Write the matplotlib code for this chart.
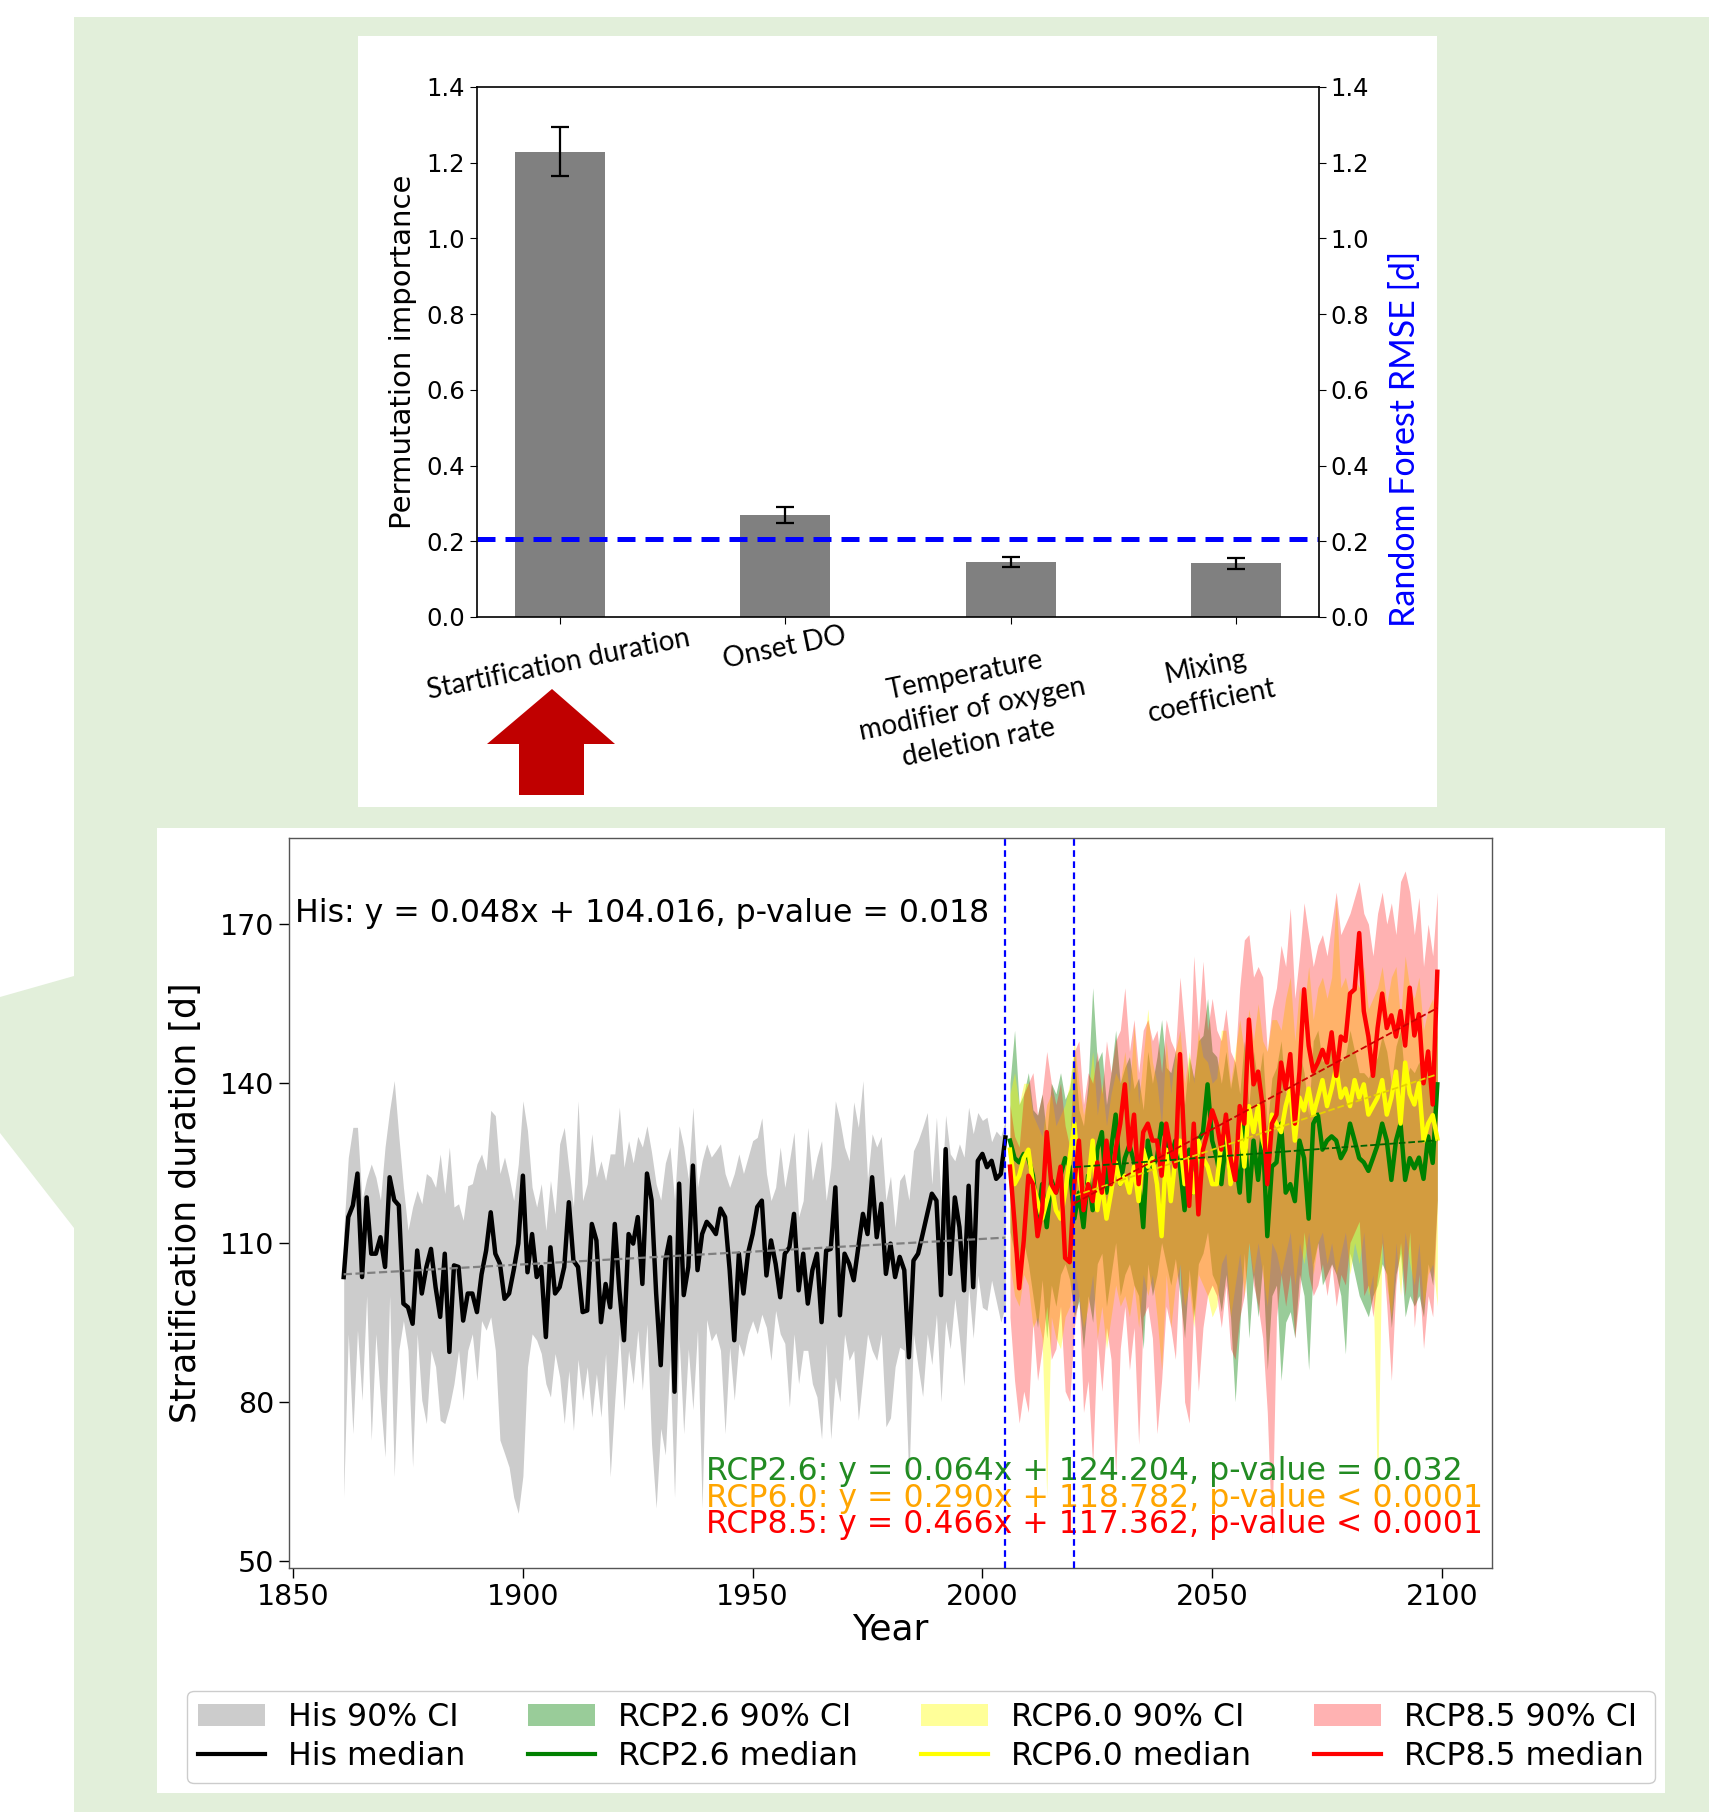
import numpy as np
import matplotlib
matplotlib.use("Agg")
import matplotlib.pyplot as plt
from matplotlib.patches import Polygon, Patch
from matplotlib.lines import Line2D

# ------------------------------------------------------------------ data
# top panel: permutation importance
features = ["Startification duration", "Onset DO",
            "Temperature\nmodifier of oxygen\ndeletion rate",
            "Mixing\ncoefficient"]
importance = [1.229, 0.270, 0.145, 0.142]
importance_err = [0.065, 0.021, 0.013, 0.014]
rf_rmse = 0.207
imp_ticks = [0.0, 0.2, 0.4, 0.6, 0.8, 1.0, 1.2, 1.4]

# bottom panel: stratification duration
his_start = 1861
his_median = [
    103.5, 114.8, 117.0, 123.0, 103.5, 118.5, 107.9, 107.9, 111.0, 105.4,
    122.3, 118.0, 117.0, 98.5, 97.8, 94.7, 108.5, 100.4, 105.4, 108.8,
    101.6, 96.0, 107.9, 89.4, 105.7, 105.4, 95.3, 100.4, 100.4, 96.9,
    104.0, 108.5, 115.7, 107.9, 106.0, 99.4, 100.4, 104.8, 109.8, 122.6,
    104.4, 111.6, 103.5, 105.4, 92.2, 109.1, 100.4, 101.6, 105.4, 117.6,
    106.6, 105.4, 96.9, 97.2, 113.5, 110.4, 95.0, 102.2, 97.8, 113.5,
    101.0, 91.6, 111.6, 109.8, 114.8, 102.2, 123.0, 118.0, 100.4, 86.9,
    106.6, 111.0,
    81.9, 121.1, 100.1, 105.4, 124.5, 104.8, 111.6, 113.9, 112.9, 111.6,
    116.4, 114.8, 104.8, 91.6, 107.9, 100.4, 108.0, 111.6, 116.7, 117.9,
    103.8, 110.4, 106.0, 99.7, 107.9, 109.1, 115.4, 101.0, 107.9, 98.5,
    104.8, 107.9, 95.0, 108.5, 108.8, 120.4, 96.3, 107.9, 106.0, 102.9,
    109.1, 115.4, 111.6, 122.3, 111.0, 117.3, 104.1, 109.8, 103.5, 107.3,
    104.8, 88.4, 106.6, 107.9, 111.6, 115.4, 119.2, 117.9, 100.1, 127.6,
    104.1, 118.5, 112.9, 101.0, 120.7, 101.6, 125.4, 126.7, 124.2, 125.4,
    122.0, 122.9, 129.8]
his_upper = [
    112, 126, 131.7, 131.7, 118, 122, 124.8, 122.3, 118, 128,
    134.9, 140.5, 130, 120.4, 112.3, 116.7, 119.8, 117.3, 123, 122.3,
    120.4, 126.7, 119.2, 128, 116.7, 117.3, 114.2, 120.7, 121.1, 124.8,
    126.7, 123.6, 134.9, 133.9, 123, 126.1, 122.3, 117.9, 124.8, 136.7,
    131.1, 120.4, 116.7, 121.1, 112.3, 121.7, 115.4, 128.6, 131.7, 124,
    116.7, 136.7, 117.9, 121.1, 130.5, 122.3, 125.4, 121.7, 126.7, 126.7,
    135.5, 124.2, 129.2, 125, 130, 128, 132, 127, 121, 118,
    125, 128,
    118, 132, 128, 122, 135.5, 120.4, 125.4, 128.6, 126.1, 127.3,
    128.6, 123, 120.4, 123, 126.7, 123, 126.1, 129.2, 129.8, 133.5,
    123, 117.9, 120.4, 128, 120.4, 125.4, 130.8, 114.8, 117.9, 131.7,
    121.7, 126.1, 129.2, 117.9, 124.2, 136.7, 133, 128, 125.4, 136.5,
    131.7, 140.5, 121.7, 130.5, 128, 130, 117.9, 122.5, 112.9, 121.7,
    123, 118, 127.3, 129.2, 131.7, 134.5, 121, 133.6, 117.9, 134,
    126.7, 125.4, 128.6, 126.1, 135.5, 130.5, 134.5, 133, 133.6, 129,
    131, 130, 133]
his_lower = [
    62, 92.8, 74, 93.5, 80.3, 100, 72.8, 92.8, 80.3, 69.6,
    100, 65.9, 89.7, 95.3, 89.7, 67.7, 92.8, 80.3, 75.9, 89.7,
    86.6, 76.5, 75.9, 79, 83.4, 89.7, 80.3, 89.7, 92.8, 84,
    95.3, 93.5, 96, 89.7, 72.8, 70.3, 67.7, 62, 59, 66,
    86.6, 92.8, 91.6, 89.1, 83.4, 80.9, 89.1, 84.7, 75.9, 85.9,
    74.6, 88, 80.3, 86.6, 77.1, 85.3, 77.1, 89.1, 65.9, 80.3,
    92.8, 78.4, 89.7, 83.4, 93.5, 82.2, 94.7, 72, 60, 75,
    70, 88,
    62, 92, 74, 90, 78.5, 93.5, 60, 95.5, 91.5, 93,
    89.7, 74, 90.3, 80.3, 91, 88.5, 92.8, 95.3, 92.8, 96.5,
    94, 87.8, 97.2, 92.8, 91, 79, 92.8, 83.4, 89.7, 89.7,
    83.4, 80.9, 73, 91, 73, 84.7, 80, 92.8, 87.8, 89.7,
    76.5, 84.7, 92.8, 89.7, 87.8, 92.8, 75.3, 77, 86.6, 90.3,
    89.7, 65, 92.8, 86.6, 81, 92.8, 87, 96.5, 80, 95.3,
    90, 99.4, 92, 83, 101.6, 92, 103.9, 97.8, 97.2, 102.9,
    99, 95, 98]

rcp_start = 2006
rcp26_median = [
    129.2, 125.9, 125.1, 126.7, 125.9, 122.6, 114.5, 121.0, 112.9, 121.8,
    119.4, 122.6, 125.9, 124.3, 114.5, 119.4, 112.9, 122.6, 116.1, 127.5,
    130.8, 119.4, 127.5, 134.1, 121.0, 125.9, 128.4, 125.1, 122.6, 112.9,
    129.2, 124.3, 125.9, 132.4, 129.2, 125.9, 129.2, 124.3, 116.1, 127.5,
    119.4, 129.2, 130.8, 139.8, 129.2, 125.9, 121.0, 129.2, 122.6, 125.9,
    119.4, 132.4, 117.8, 129.2, 121.8, 130.8, 111.2, 124.3, 125.1, 132.4,
    119.4, 121.0, 117.8, 129.2, 125.9, 114.5, 132.4, 134.1, 127.5, 129.2,
    130.0, 129.2, 125.9, 127.5, 132.4, 129.2, 125.9, 125.1, 123.5, 125.9,
    128.4, 132.4, 129.2, 121.8, 129.2, 132.4, 121.8, 125.9, 124.0, 126.0,
    122.0, 130.0, 125.0, 139.8]
rcp26_upper = [
    140, 150, 136, 138, 142, 135, 134, 138, 130, 140,
    138, 142, 137, 139, 146, 135, 132, 140, 158, 144,
    146, 136, 142, 150, 140, 143, 145, 139, 141, 135,
    146, 140, 145, 152, 143, 142, 146, 140, 136, 145,
    141, 148, 149, 156, 146, 145, 140, 146, 139, 144,
    138, 148, 136, 146, 140, 146, 132, 141, 143, 148,
    138, 140, 135, 146, 142, 134, 148, 150, 144, 146,
    147, 146, 144, 145, 150, 146, 142, 142, 141, 143,
    145, 149, 146, 140, 147, 150, 140, 143, 142, 144,
    140, 146, 143, 150]
rcp26_lower = [
    112, 108, 104, 110, 106, 100, 94, 103, 92, 102,
    98, 104, 106, 103, 96, 99, 90, 100, 95, 106,
    108, 98, 104, 110, 100, 104, 106, 102, 100, 90,
    106, 100, 104, 110, 106, 102, 107, 100, 92, 105,
    96, 106, 108, 112, 104, 102, 97, 104, 96, 80,
    94, 108, 92, 104, 96, 106, 86, 100, 102, 84,
    95, 97, 92, 104, 100, 86, 106, 110, 102, 104,
    106, 104, 100, 89, 108, 104, 100, 98, 96, 100,
    102, 106, 104, 94, 104, 108, 96, 100, 98, 100,
    96, 106, 102, 118]

rcp60_median = [
    127.5, 121.0, 122.6, 125.9, 127.5, 121.0, 117.8, 114.5, 117.8, 121.0,
    116.1, 114.5, 119.4, 125.9, 132.4, 122.6, 117.8, 121.0, 129.2, 116.1,
    121.0, 114.5, 119.4, 125.1, 121.0, 122.6, 119.4, 124.3, 117.8, 127.5,
    124.3, 125.9, 121.0, 111.2, 127.5, 117.8, 125.9, 129.2, 121.0, 125.9,
    119.4, 129.2, 125.9, 124.3, 121.0, 121.0, 129.2, 132.4, 121.0, 125.9,
    132.4, 124.3, 135.7, 130.8, 135.7, 129.2, 125.9, 134.1, 132.4, 130.8,
    135.7, 139.0, 129.2, 137.3, 134.9, 139.0, 134.1, 137.3, 140.6, 135.7,
    139.0, 143.0, 137.3, 139.0, 135.7, 140.6, 137.3, 139.8, 134.1, 135.7,
    137.3, 140.6, 134.1, 137.3, 142.2, 132.4, 143.9, 138.0, 136.0, 140.0,
    129.2, 132.4, 134.0, 129.6]
rcp60_upper = [
    138, 142, 136, 140, 140, 134, 132, 130, 136, 138,
    132, 134, 136, 140, 148, 140, 134, 138, 146, 134,
    140, 132, 138, 142, 140, 146, 138, 151, 136, 145,
    154, 144, 140, 132, 148, 138, 146, 150, 140, 146,
    140, 150, 145, 144, 140, 141, 150, 150, 140, 146,
    152, 146, 154, 148, 155, 148, 146, 152, 152, 150,
    156, 160, 148, 158, 154, 162, 152, 158, 160, 156,
    160, 175, 158, 160, 156, 160, 158, 162, 154, 156,
    158, 162, 155, 160, 162, 152, 164, 158, 156, 160,
    150, 154, 156, 150]
rcp60_lower = [
    106, 100, 98, 104, 102, 94, 96, 92, 62, 96,
    92, 90, 96, 98, 106, 100, 94, 98, 104, 92,
    98, 90, 96, 102, 98, 100, 96, 102, 94, 104,
    100, 104, 96, 86, 104, 94, 102, 106, 98, 102,
    94, 104, 102, 100, 96, 98, 106, 108, 96, 102,
    108, 100, 110, 104, 110, 104, 98, 110, 108, 104,
    108, 112, 102, 110, 106, 112, 104, 110, 112, 106,
    110, 104, 108, 112, 104, 110, 106, 112, 100, 104,
    62, 112, 102, 96, 110, 100, 112, 106, 102, 110,
    98, 104, 106, 98]

rcp85_median = [
    124.3, 113.7, 101.4, 110.4, 122.6, 121.0, 111.2, 116.1, 130.8, 121.0,
    119.4, 124.3, 107.1, 106.3, 121.0, 129.2, 116.1, 121.0, 117.8, 125.1,
    119.4, 129.2, 121.0, 127.5, 132.4, 139.8, 127.5, 134.1, 121.0, 130.8,
    132.4, 129.2, 129.2, 122.6, 132.4, 127.5, 124.3, 145.5, 127.5, 116.9,
    132.4, 115.3, 127.5, 130.8, 134.9, 132.4, 127.5, 134.1, 125.9, 121.8,
    135.7, 132.4, 152.0, 139.8, 142.2, 135.7, 121.0, 132.4, 134.1, 143.9,
    139.0, 145.5, 132.4, 142.2, 157.7, 147.1, 142.2, 143.9, 146.3, 143.9,
    149.6, 141.4, 148.8, 148.0, 156.9, 157.7, 168.3, 153.6, 148.8, 141.4,
    150.4, 156.9, 150.4, 152.8, 148.8, 153.6, 147.1, 158.0, 149.0, 153.0,
    140.0, 146.0, 136.0, 161.0]
rcp85_upper = [
    136, 130, 128, 138, 140, 142, 134, 138, 146, 140,
    136, 140, 132, 128, 146, 148, 136, 142, 140, 146,
    138, 148, 142, 148, 150, 158, 146, 152, 142, 150,
    152, 148, 150, 142, 152, 148, 146, 160, 150, 140,
    164, 150, 163, 150, 156, 150, 148, 154, 146, 144,
    158, 167, 168, 160, 162, 160, 146, 154, 158, 166,
    162, 173, 156, 164, 174, 168, 162, 166, 168, 164,
    170, 176, 168, 170, 172, 175, 178, 172, 170, 164,
    172, 176, 170, 174, 168, 178, 180, 176, 168, 175,
    162, 170, 164, 176]
rcp85_lower = [
    96, 84, 76, 82, 78, 95, 84, 90, 98, 88,
    90, 98, 82, 80, 94, 100, 78, 84, 68, 92,
    82, 94, 88, 66, 90, 98, 86, 94, 72, 96,
    98, 92, 74, 84, 98, 94, 88, 106, 80, 76,
    98, 82, 94, 100, 102, 100, 94, 102, 90, 88,
    96, 100, 110, 102, 98, 92, 78, 54, 96, 104,
    98, 104, 92, 100, 112, 104, 100, 102, 106, 100,
    106, 98, 104, 102, 110, 112, 114, 100, 102, 96,
    104, 110, 98, 84, 102, 110, 100, 112, 94, 104,
    90, 100, 96, 118]

# regression coefficients printed on the chart
his_fit = (0.048, 104.016)
rcp26_fit = (0.064, 124.204)
rcp60_fit = (0.290, 118.782)
rcp85_fit = (0.466, 117.362)
rcp_fit_start = 2020
period_marks = [2005, 2020]
year_ticks = [1850, 1900, 1950, 2000, 2050, 2100]
dur_ticks = [50, 80, 110, 140, 170]

# ------------------------------------------------------------------ layout helpers
W, H = 1709, 1812
fig = plt.figure(figsize=(W / 100, H / 100), dpi=100)
fig.patch.set_facecolor("white")


def fx(x):
    return x / W


def fy(y):
    return 1 - y / H


def poly(points, **kw):
    p = Polygon([(fx(a), fy(b)) for a, b in points], closed=True,
                transform=fig.transFigure, **kw)
    fig.patches.append(p)


GREEN_BG = "#e2efda"
poly([(74, 17), (W, 17), (W, H), (74, H)], facecolor=GREEN_BG, edgecolor="none", zorder=-10)
poly([(0, 997), (74, 976), (74, 1228), (0, 1133)], facecolor=GREEN_BG, edgecolor="none", zorder=-10)
poly([(358, 36), (1437, 36), (1437, 807), (358, 807)], facecolor="white", edgecolor="none", zorder=-9)
poly([(157, 828), (1665, 828), (1665, 1793), (157, 1793)], facecolor="white", edgecolor="none", zorder=-9)
# red block arrow
poly([(552, 689), (615, 744), (584, 744), (584, 795), (519, 795), (519, 744), (487, 744)],
     facecolor="#c00000", edgecolor="none", zorder=5)

# ------------------------------------------------------------------ top panel
ax1 = fig.add_axes([fx(477), fy(617), (1319 - 477) / W, (617 - 87) / H])
xpos = np.arange(len(features))
ax1.bar(xpos, importance, width=0.4, color="gray", yerr=importance_err, capsize=6.5,
        error_kw=dict(elinewidth=1.6, capthick=1.6, ecolor="black"))
ax1.axhline(rf_rmse, color="blue", lw=3.6, ls=(0, (3.6, 2.0)))
ax1.set_ylim(0, 1.4)
ax1.set_yticks(imp_ticks)
ax1.set_yticklabels([f"{t:.1f}" for t in imp_ticks])
ax1.set_xticks(xpos)
ax1.set_xticklabels([])
ax1.tick_params(axis="y", right=True, labelright=True, labelsize=17.5, length=5)
ax1.tick_params(axis="x", length=5)
for s in ax1.spines.values():
    s.set_linewidth(1.2)
ax1.set_ylabel("Permutation importance", fontsize=21)
ax1.yaxis.set_label_coords((417 - 477) / 842, 0.5)

label_pos = [(559, 664), (785, 648), (972, 709), (1209, 684)]
for name, (px_, py_) in zip(features, label_pos):
    fig.text(fx(px_), fy(py_), name, rotation=11.5, rotation_mode="anchor",
             ha="center", va="center", multialignment="center",
             fontsize=20, family=["Lato", "DejaVu Sans"], linespacing=1.4)
fig.text(fx(1405), fy(439), "Random Forest RMSE [d]", rotation=90, color="blue",
         ha="center", va="center", fontsize=24.5, family=["Lato", "DejaVu Sans"])

# ------------------------------------------------------------------ bottom panel
ax2 = fig.add_axes([fx(289), fy(1568), (1492 - 289) / W, (1568 - 838) / H])
his_years = np.arange(his_start, his_start + len(his_median))
rcp_years = np.arange(rcp_start, rcp_start + len(rcp26_median))

ax2.fill_between(his_years, his_lower, his_upper, color="gray", alpha=0.4, lw=0)
ax2.fill_between(rcp_years, rcp26_lower, rcp26_upper, color="green", alpha=0.4, lw=0)
ax2.fill_between(rcp_years, rcp60_lower, rcp60_upper, color="yellow", alpha=0.4, lw=0)
ax2.fill_between(rcp_years, rcp85_lower, rcp85_upper, color="red", alpha=0.3, lw=0)

ax2.plot(his_years, his_median, color="black", lw=3.2)
ax2.plot(rcp_years, rcp26_median, color="green", lw=3.2)
ax2.plot(rcp_years, rcp60_median, color="yellow", lw=3.2)
ax2.plot(rcp_years, rcp85_median, color="red", lw=3.2)

# trend lines from the printed regression coefficients
ax2.plot(his_years, his_fit[0] * (his_years - his_start) + his_fit[1],
         color="gray", ls="--", lw=1.6)
fit_years = np.arange(rcp_fit_start, rcp_years[-1] + 1)
for fit, col in [(rcp26_fit, "darkgreen"), (rcp60_fit, "#e6d200"), (rcp85_fit, "#cc0000")]:
    ax2.plot(fit_years, fit[0] * (fit_years - rcp_fit_start) + fit[1],
             color=col, ls="--", lw=1.3)

for yr in period_marks:
    ax2.axvline(yr, color="blue", ls=(0, (3, 2)), lw=1.6, zorder=4)

ax2.set_xlim(1849.1, 2110.9)
ax2.set_ylim(48.7, 186.2)
ax2.set_xticks(year_ticks)
ax2.set_yticks(dur_ticks)
ax2.tick_params(labelsize=20.5, length=7, width=1)
for s in ax2.spines.values():
    s.set_linewidth(1.0)
    s.set_color("#555555")
ax2.set_xlabel("Year", fontsize=26)
ax2.set_ylabel("Stratification duration [d]", fontsize=25)
ax2.yaxis.set_label_coords((203 - 289) / 1203, 0.5)
ax2.xaxis.set_label_coords(0.5, (1568 - 1612) / 730)

ax2.text(1850.3, 171.9, "His: y = 0.048x + 104.016, p-value = 0.018",
         fontsize=22.7, ha="left", va="center")
ax2.text(1939.8, 66.8, "RCP2.6: y = 0.064x + 124.204, p-value = 0.032",
         fontsize=22.7, ha="left", va="center", color="forestgreen")
ax2.text(1939.8, 61.8, "RCP6.0: y = 0.290x + 118.782, p-value < 0.0001",
         fontsize=22.7, ha="left", va="center", color="orange")
ax2.text(1939.8, 56.8, "RCP8.5: y = 0.466x + 117.362, p-value < 0.0001",
         fontsize=22.7, ha="left", va="center", color="red")

handles = [Patch(facecolor="gray", alpha=0.4), Line2D([], [], color="black", lw=3),
           Patch(facecolor="green", alpha=0.4), Line2D([], [], color="green", lw=3),
           Patch(facecolor="yellow", alpha=0.4), Line2D([], [], color="yellow", lw=3),
           Patch(facecolor="red", alpha=0.3), Line2D([], [], color="red", lw=3)]
labels = ["His 90% CI", "His median", "RCP2.6 90% CI", "RCP2.6 median",
          "RCP6.0 90% CI", "RCP6.0 median", "RCP8.5 90% CI", "RCP8.5 median"]
ax2.legend(handles, labels, ncol=4, loc="center",
           bbox_to_anchor=(fx(921), fy(1737)), bbox_transform=fig.transFigure,
           fontsize=22.7, handlelength=2.12, handletextpad=0.73, columnspacing=2.0,
           labelspacing=0.25, frameon=True, fancybox=True, framealpha=1,
           edgecolor="#cccccc", borderpad=0.35)

fig.savefig("out.png", dpi=100, facecolor="white")
